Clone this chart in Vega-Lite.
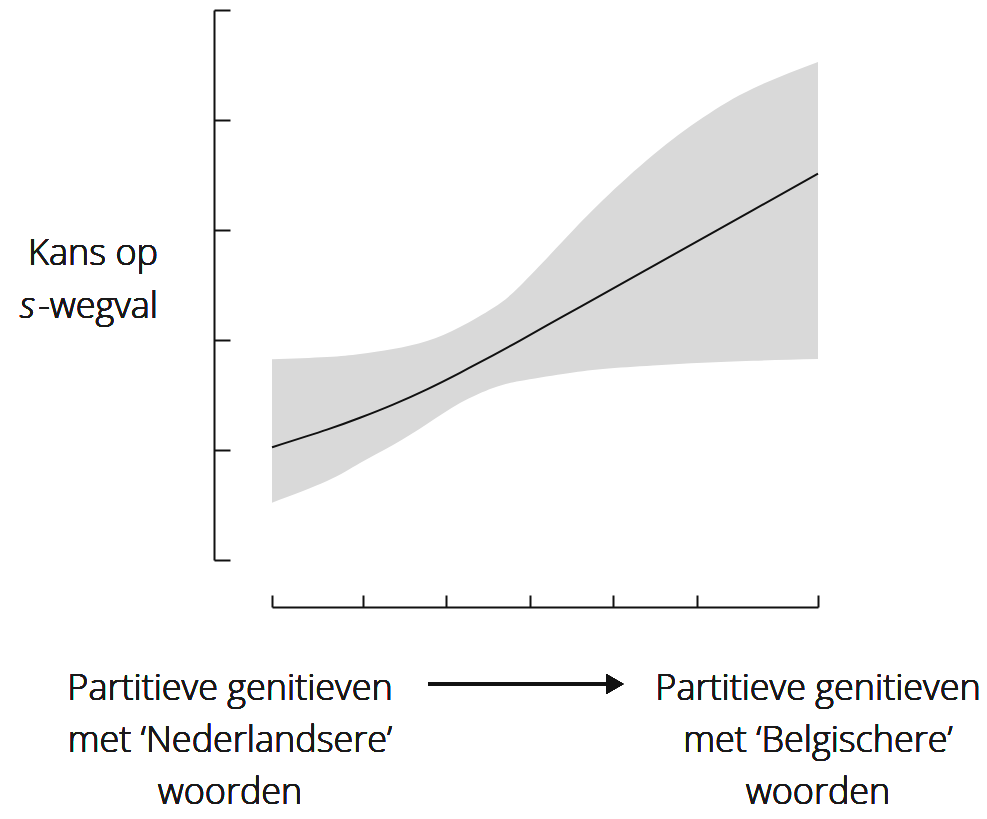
{
  "$schema": "https://vega.github.io/schema/vega-lite/v6.json",
  "width": 546,
  "height": 550,
  "autosize": {"type": "none"},
  "padding": {"left": 272, "top": 10, "right": 169, "bottom": 259},
  "background": "white",
  "config": {"view": {"stroke": null}, "text": {"font": "Open Sans", "fontSize": 36, "fontWeight": 300, "color": "#1a1a1a"}},
  "data": {"values": [
    {"x": 0, "lower": 0.521, "fit": 1.025, "upper": 1.825},
    {"x": 55, "lower": 0.718, "fit": 1.185, "upper": 1.845},
    {"x": 88, "lower": 0.882, "fit": 1.293, "upper": 1.873},
    {"x": 121, "lower": 1.045, "fit": 1.413, "upper": 1.918},
    {"x": 155, "lower": 1.236, "fit": 1.552, "upper": 1.991},
    {"x": 188, "lower": 1.427, "fit": 1.702, "upper": 2.118},
    {"x": 221, "lower": 1.564, "fit": 1.861, "upper": 2.291},
    {"x": 248, "lower": 1.627, "fit": 1.995, "upper": 2.491},
    {"x": 291, "lower": 1.691, "fit": 2.214, "upper": 2.9},
    {"x": 331, "lower": 1.736, "fit": 2.417, "upper": 3.272},
    {"x": 381, "lower": 1.768, "fit": 2.672, "upper": 3.682},
    {"x": 431, "lower": 1.793, "fit": 2.926, "upper": 4.022},
    {"x": 481, "lower": 1.811, "fit": 3.181, "upper": 4.287},
    {"x": 546, "lower": 1.827, "fit": 3.512, "upper": 4.527}
  ]},
  "layer": [
    {
      "mark": {"type": "area", "color": "#d9d9d9", "interpolate": "natural"},
      "encoding": {
        "x": {"field": "x", "type": "quantitative",
              "scale": {"domain": [0, 546], "nice": false, "zero": false},
              "axis": {"orient": "bottom", "offset": 47, "values": [0, 91, 174, 258, 341, 425, 546],
                       "labels": false, "title": null, "grid": false, "tickSize": -12, "tickWidth": 2,
                       "tickColor": "#111", "domainColor": "#111", "domainWidth": 2}},
        "y": {"field": "lower", "type": "quantitative",
              "scale": {"domain": [0, 5], "nice": false, "zero": false},
              "axis": {"orient": "left", "offset": 58, "values": [0, 1, 2, 3, 4, 5],
                       "labels": false, "title": null, "grid": false, "tickSize": -16, "tickWidth": 2,
                       "tickColor": "#111", "domainColor": "#111", "domainWidth": 2}},
        "y2": {"field": "upper"}
      }
    },
    {
      "mark": {"type": "line", "color": "#111", "strokeWidth": 2, "interpolate": "natural"},
      "encoding": {
        "x": {"field": "x", "type": "quantitative"},
        "y": {"field": "fit", "type": "quantitative"}
      }
    },
    {
      "mark": {"type": "text", "align": "right", "baseline": "alphabetic", "text": "Kans op"},
      "encoding": {"x": {"datum": -114}, "y": {"datum": 2.68}}
    },
    {
      "mark": {"type": "text", "align": "right", "baseline": "alphabetic", "text": "-wegval"},
      "encoding": {"x": {"datum": -114}, "y": {"datum": 2.2}}
    },
    {
      "mark": {"type": "text", "align": "right", "baseline": "alphabetic", "text": "s", "fontStyle": "italic"},
      "encoding": {"x": {"datum": -237}, "y": {"datum": 2.2}}
    },
    {
      "mark": {"type": "text", "align": "center", "baseline": "alphabetic", "lineHeight": 52,
               "text": ["Partitieve genitieven", "met ‘Nederlandsere’", "woorden"]},
      "encoding": {"x": {"datum": -42}, "y": {"datum": -1.27}}
    },
    {
      "mark": {"type": "text", "align": "center", "baseline": "alphabetic", "lineHeight": 52,
               "text": ["Partitieve genitieven", "met ‘Belgischere’", "woorden"]},
      "encoding": {"x": {"datum": 546}, "y": {"datum": -1.27}}
    },
    {
      "mark": {"type": "rule", "color": "#111", "strokeWidth": 2.5},
      "encoding": {"x": {"datum": 156}, "x2": {"datum": 338}, "y": {"datum": -1.127}}
    },
    {
      "mark": {"type": "point", "shape": "triangle-right", "filled": true, "color": "#111", "size": 380, "opacity": 1},
      "encoding": {"x": {"datum": 343}, "y": {"datum": -1.127}}
    }
  ]
}
